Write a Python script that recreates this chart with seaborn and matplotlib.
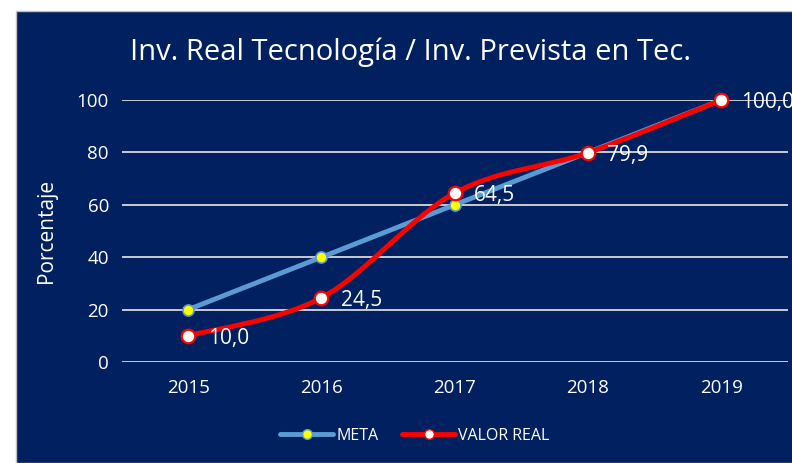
import matplotlib
matplotlib.use("Agg")
import matplotlib.pyplot as plt
import numpy as np
import pandas as pd
import seaborn as sns
from matplotlib.patches import PathPatch, Rectangle
from matplotlib.path import Path
from matplotlib.lines import Line2D

years = ["2015", "2016", "2017", "2018", "2019"]
meta = [20, 40, 60, 80, 100]
valor_real = [10.0, 24.5, 64.5, 79.9, 100.0]
yticks = [0, 20, 40, 60, 80, 100]

NAVY = "#002060"
META_BLUE = "#5B9BD5"
RED = "#FF0000"
FONT = ["Open Sans", "DejaVu Sans"]

sns.set_theme(style="dark")
plt.rcParams["font.family"] = FONT

fig = plt.figure(figsize=(7.92, 4.63), dpi=100)
fig.patch.set_facecolor("white")
fig.patches.append(Rectangle((16 / 792, 0), 1, 1 - 11 / 463, transform=fig.transFigure,
                             facecolor=NAVY, edgecolor="#BFBFBF", linewidth=1, zorder=-10))

ax = fig.add_axes([121.5 / 792, 1 - 362 / 463, (788 - 121.5) / 792, (362 - 100) / 463])
ax.set_facecolor("none")
ax.set_zorder(1)

df = pd.DataFrame({"x": range(len(years)), "meta": meta, "real": valor_real})

sns.lineplot(data=df, x="x", y="meta", ax=ax, color=META_BLUE, linewidth=3.5,
             marker="o", markersize=8, markerfacecolor="yellow",
             markeredgecolor=META_BLUE, markeredgewidth=1.2, clip_on=False, zorder=3)

# smoothed red line (Excel-style bezier through the points)
pts = np.column_stack([df["x"].to_numpy(float), df["real"].to_numpy(float)])
n = len(pts)
verts = [tuple(pts[0])]
codes = [Path.MOVETO]
for i in range(n - 1):
    p0 = pts[max(i - 1, 0)]
    p1 = pts[i]
    p2 = pts[i + 1]
    p3 = pts[min(i + 2, n - 1)]
    c1 = p1 + (p2 - p0) / 6
    c2 = p2 - (p3 - p1) / 6
    verts += [tuple(c1), tuple(c2), tuple(p2)]
    codes += [Path.CURVE4] * 3
ax.add_patch(PathPatch(Path(verts, codes), facecolor="none", edgecolor=RED,
                       linewidth=3.5, clip_on=False, zorder=4, capstyle="round"))
sns.scatterplot(data=df, x="x", y="real", ax=ax, color="white", edgecolor=RED,
                linewidth=1.6, s=95, clip_on=False, zorder=5)

for xi, v in zip(df["x"], valor_real):
    ax.annotate(f"{v:.1f}".replace(".", ","), (xi, v), xytext=(14, -2),
                textcoords="offset points", color="white", fontsize=15,
                va="center", ha="left", annotation_clip=False, zorder=6)

ax.set_xlim(-0.5, len(years) - 0.5)
ax.set_ylim(0, 100)
ax.set_xticks(range(len(years)))
ax.set_xticklabels(years)
ax.set_yticks(yticks)
ax.tick_params(colors="white", labelsize=13.5, length=0)
ax.tick_params(axis="x", pad=12)
ax.tick_params(axis="y", pad=9)
ax.grid(axis="y", color="#D9D9D9", linewidth=1.3)
ax.grid(axis="x", visible=False)
for s in ax.spines.values():
    s.set_visible(False)
ax.set_xlabel("")
ax.set_ylabel("Porcentaje", color="white", fontsize=15, labelpad=14)

fig.text(0.518, 1 - 52 / 463, "Inv. Real Tecnología / Inv. Prevista en Tec.",
         color="white", fontsize=21, ha="center", va="center")

handles = [
    Line2D([], [], color=META_BLUE, linewidth=3.5, marker="o", markersize=7,
           markerfacecolor="yellow", markeredgecolor=META_BLUE),
    Line2D([], [], color=RED, linewidth=3.5, marker="o", markersize=7,
           markerfacecolor="white", markeredgecolor=RED),
]
fig.legend(handles, ["META", "VALOR REAL"], loc="center", bbox_to_anchor=(0.524, 1 - 436 / 463),
           ncol=2, frameon=False, fontsize=11.5, labelcolor="white", handlelength=3.3,
           handletextpad=0.2, columnspacing=1.5)

fig.savefig("out.png", dpi=100)
